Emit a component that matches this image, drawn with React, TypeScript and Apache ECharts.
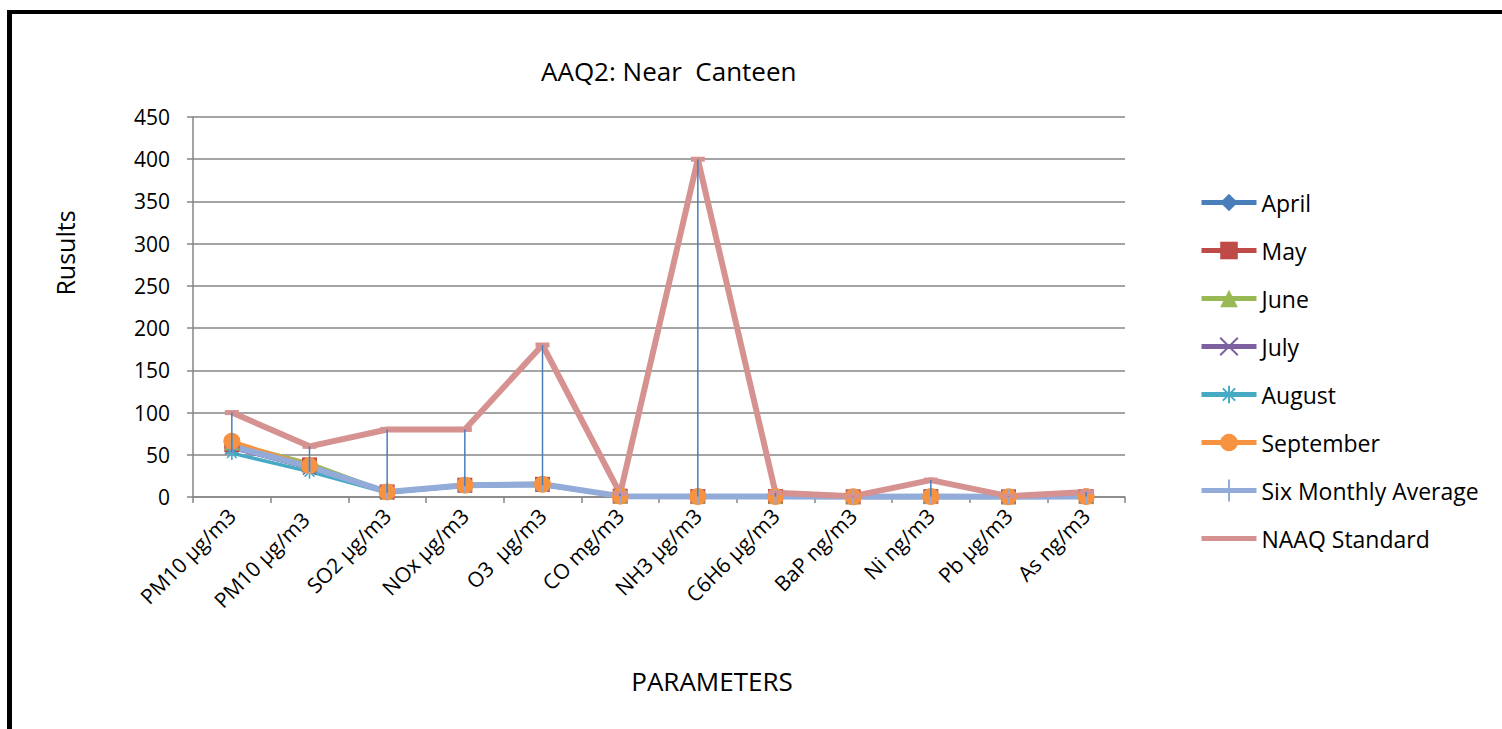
import React, { useEffect, useRef } from "react";
import * as echarts from "echarts";

const categories = [
  "PM10 µg/m3",
  "PM10 µg/m3 ",
  "SO2 µg/m3",
  "NOx µg/m3",
  "O3  µg/m3",
  "CO mg/m3",
  "NH3 µg/m3",
  "C6H6 µg/m3",
  "BaP ng/m3",
  "Ni ng/m3",
  "Pb µg/m3",
  "As ng/m3",
];

const april = [60, 36, 6, 14, 15, 1, 0.5, 0.5, 0.2, 0.5, 0.2, 0.5];
const may = [62, 38, 6, 14, 15, 1, 0.5, 0.5, 0.2, 0.5, 0.2, 0.5];
const june = [64, 40, 6, 15, 16, 1, 0.5, 0.5, 0.2, 0.5, 0.2, 0.5];
const july = [58, 34, 5, 13, 14, 1, 0.5, 0.5, 0.2, 0.5, 0.2, 0.5];
const august = [52, 30, 5, 13, 14, 1, 0.5, 0.5, 0.2, 0.5, 0.2, 0.5];
const september = [66, 37, 6, 14, 15, 1, 0.5, 0.5, 0.2, 0.5, 0.2, 0.5];
const sixMonthlyAverage = [60, 36, 6, 14, 15, 1, 0.5, 0.5, 0.2, 0.5, 0.2, 0.5];
const naaqStandard = [100, 60, 80, 80, 180, 4, 400, 5, 1, 20, 1, 6];

const yTicks = { min: 0, max: 450, interval: 50 };

const FONT = "Open Sans";

export default function App() {
  const ref = useRef<HTMLDivElement>(null);
  useEffect(() => {
    if (!ref.current) return;
    const chart = echarts.init(ref.current, null, { renderer: "svg" });
    const monthly = [april, may, june, july, august, september];
    const hiLo = categories.map((_, i) => {
      const lows = monthly.map((s) => s[i]);
      return [i, Math.min(...lows), naaqStandard[i]];
    });
    const mk = (
      name: string,
      data: number[],
      color: string,
      symbol: string,
      symbolSize: any,
      width: number,
      stroke = false
    ) => ({
      name,
      type: "line",
      data,
      symbol,
      symbolSize,
      showSymbol: symbol !== "none",
      lineStyle: { color, width },
      itemStyle: stroke
        ? { color, borderColor: color, borderWidth: 1.6 }
        : { color, borderWidth: 0 },
      emphasis: { disabled: true },
    });
    const xPath = "path://M0,0L10,10M10,0L0,10";
    const starPath = "path://M5,0L5,10M0,5L10,5M1.5,1.5L8.5,8.5M8.5,1.5L1.5,8.5";
    const tickPath = "path://M4.85,0L5.15,0L5.15,10L4.85,10Z";
    const dashPath = "path://M0,4.7L10,4.7L10,5.3L0,5.3Z";
    const legendLineIcon = "path://M0,0L55,0L55,5L0,5Z";
    const legendTickIcon = "path://M0,8.5L55,8.5L55,13.5L0,13.5Z M26.5,0L28.5,0L28.5,22L26.5,22Z";
    chart.setOption({
      animation: false,
      title: {
        text: "AAQ2: Near  Canteen",
        left: 536,
        top: 53,
        textStyle: { fontFamily: FONT, fontSize: 26, fontWeight: "normal", color: "#000" },
      },
      legend: {
        orient: "vertical",
        left: 1194,
        top: 186,
        itemWidth: 55,
        itemHeight: 22,
        itemGap: 25,
        lineStyle: { width: 5 },
        textStyle: { fontFamily: FONT, fontSize: 23, color: "#000" },
        data: [
          "April",
          "May",
          "June",
          "July",
          "August",
          "September",
          { name: "Six Monthly Average", icon: legendTickIcon },
          { name: "NAAQ Standard", icon: legendLineIcon },
        ],
      },
      grid: { left: 193, right: 377, top: 117, bottom: 232, containLabel: false },
      xAxis: {
        type: "category",
        data: categories,
        boundaryGap: true,
        axisLine: { lineStyle: { color: "#868686", width: 1.5 } },
        axisTick: { show: true, length: 6, alignWithLabel: false, lineStyle: { color: "#868686", width: 1.5 } },
        axisLabel: {
          rotate: 45,
          interval: 0,
          margin: 15,
          fontFamily: FONT,
          fontSize: 21,
          color: "#000",
        },
      },
      yAxis: {
        type: "value",
        min: yTicks.min,
        max: yTicks.max,
        interval: yTicks.interval,
        axisLine: { show: true, lineStyle: { color: "#868686", width: 1.5 } },
        axisTick: { show: true, length: 6, lineStyle: { color: "#868686", width: 1.5 } },
        splitLine: { lineStyle: { color: "#868686", width: 1.5 } },
        axisLabel: { fontFamily: FONT, fontSize: 21, color: "#000", margin: 23 },
      },
      graphic: [
        { type: "rect", shape: { x: 7, y: 10, width: 5, height: 719 }, style: { fill: "#000" } },
        { type: "rect", shape: { x: 7, y: 10, width: 1495, height: 4 }, style: { fill: "#000" } },
        {
          type: "text",
          x: 65,
          y: 253,
          rotation: Math.PI / 2,
          style: {
            text: "Rusults",
            fontFamily: FONT,
            fontSize: 25,
            fill: "#000",
            align: "center",
            verticalAlign: "middle",
          },
        },
        {
          type: "text",
          x: 712,
          y: 681,
          style: {
            text: "PARAMETERS",
            fontFamily: FONT,
            fontSize: 26,
            fill: "#000",
            align: "center",
            verticalAlign: "middle",
          },
        },
      ],
      series: [
        mk("April", april, "#4A7EBB", "diamond", 16, 3.5),
        mk("May", may, "#BE4B48", "rect", 15, 3.5),
        mk("June", june, "#98B954", "triangle", 15, 3.5),
        mk("July", july, "#7D60A0", xPath, 13, 3.5, true),
        mk("August", august, "#46AAC5", starPath, 14, 3.5, true),
        mk("September", september, "#F69240", "circle", 17, 3.5),
        mk("Six Monthly Average", sixMonthlyAverage, "#93ABD8", tickPath, [2, 15], 6),
        mk("NAAQ Standard", naaqStandard, "#D69290", dashPath, [14, 5], 6),
        {
          name: "hilo",
          type: "custom",
          data: hiLo,
          encode: { x: 0, y: [1, 2] },
          z: 10,
          silent: true,
          renderItem: (_params: any, api: any) => {
            const x = api.value(0);
            const p1 = api.coord([x, api.value(1)]);
            const p2 = api.coord([x, api.value(2)]);
            return {
              type: "line",
              shape: { x1: p1[0], y1: p1[1], x2: p2[0], y2: p2[1] },
              style: { stroke: "#4A7EBB", lineWidth: 1.5 },
            };
          },
        },
      ],
    });
    return () => chart.dispose();
  }, []);
  return (
    <div
      ref={ref}
      style={{ position: "fixed", left: 0, top: 0, width: 1502, height: 729, background: "#fff" }}
    />
  );
}
